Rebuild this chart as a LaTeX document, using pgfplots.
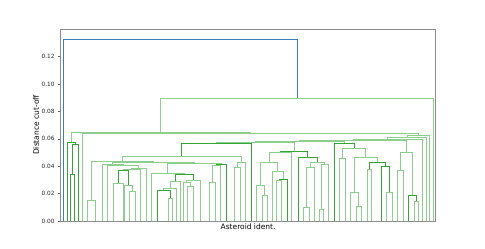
\documentclass[border=0pt]{standalone}
\usepackage{pgfplots}
\pgfplotsset{compat=1.18}
\usepackage{fontspec}
\setmainfont{DejaVu Sans}
\definecolor{lgreen}{RGB}{140,206,140}
\definecolor{dgreen}{RGB}{52,165,52}
\definecolor{mblue}{RGB}{60,125,190}
\pgfplotsset{
  gl/.style={draw=lgreen, line width=1.6bp},
  gd/.style={draw=dgreen, line width=1.6bp},
  bl/.style={draw=mblue, line width=1.6bp},
}
\begin{document}
\begin{tikzpicture}
\useasboundingbox (0,0) rectangle (485bp,249bp);
\begin{axis}[
  at={(60.5bp,28bp)}, anchor=south west,
  scale only axis, width=375.2bp, height=192bp,
  xmin=60.5, xmax=435.7, ymin=0, ymax=0.14016,
  xtick=\empty,
  ytick={0,0.02,0.04,0.06,0.08,0.1,0.12},
  ytick pos=left, tick align=outside, major tick length=2.5bp,
  every tick/.style={black!60, line width=0.6bp},
  axis line style={black!45, line width=0.8bp},
  yticklabel style={font=\fontsize{5.8bp}{7bp}\selectfont, text=black!85},
  /pgf/number format/.cd, fixed, fixed zerofill, precision=2, assume math mode=true,
  /pgfplots/.cd,
  xlabel={Asteroid ident.},
  ylabel={Distance cut-off},
  xlabel style={font=\fontsize{7.5bp}{9bp}\selectfont, at={(axis description cs:0.5,0)}, anchor=north, inner sep=0pt, yshift=-3bp},
  ylabel style={font=\fontsize{7.5bp}{9bp}\selectfont, at={(axis description cs:0,0.5)}, anchor=center, inner sep=0pt, yshift=24.5bp},
]
% ---- region I
\addplot[gd] coordinates {(70.5,0) (70.5,0.033945) (74.5,0.033945) (74.5,0)};
\addplot[gd] coordinates {(72.5,0.033945) (72.5,0.055845) (78.5,0.055845) (78.5,0)};
\addplot[gd] coordinates {(67.5,0) (67.5,0.057305) (75.5,0.057305) (75.5,0.055845)};
% ---- region II
\addplot[gl] coordinates {(87.5,0) (87.5,0.014965) (95.5,0.014965) (95.5,0)};
\addplot[gl] coordinates {(113.5,0) (113.5,0.027375) (123.5,0.027375) (123.5,0)};
\addplot[gl] coordinates {(129.5,0) (129.5,0.021535) (135.5,0.021535) (135.5,0)};
\addplot[gl] coordinates {(124.5,0) (124.5,0.025915) (132.5,0.025915) (132.5,0.021535)};
\addplot[gd] coordinates {(118.5,0.027375) (118.5,0.036865) (128.5,0.036865) (128.5,0.025915)};
\addplot[gl] coordinates {(123.5,0.036865) (123.5,0.037595) (140.5,0.037595) (140.5,0)};
\addplot[gl] coordinates {(131.5,0.037595) (131.5,0.038325) (146.5,0.038325) (146.5,0)};
\addplot[gl] coordinates {(168.5,0) (168.5,0.016425) (172.5,0.016425) (172.5,0)};
\addplot[gd] coordinates {(157.5,0) (157.5,0.022265) (170.5,0.022265) (170.5,0.016425)};
\addplot[gl] coordinates {(163.5,0.022265) (163.5,0.023725) (176.5,0.023725) (176.5,0)};
\addplot[gl] coordinates {(170.5,0.023725) (170.5,0.028835) (180.5,0.028835) (180.5,0)};
\addplot[gl] coordinates {(187.5,0) (187.5,0.025185) (193.5,0.025185) (193.5,0)};
\addplot[gl] coordinates {(183.5,0) (183.5,0.028105) (190.5,0.028105) (190.5,0.025185)};
\addplot[gl] coordinates {(186.5,0.028105) (186.5,0.029565) (200.5,0.029565) (200.5,0)};
\addplot[gd] coordinates {(175.5,0.028835) (175.5,0.033945) (193.5,0.033945) (193.5,0.029565)};
\addplot[gl] coordinates {(151.5,0) (151.5,0.034675) (184.5,0.034675) (184.5,0.033945)};
\addplot[gl] coordinates {(209.5,0) (209.5,0.028105) (215.5,0.028105) (215.5,0)};
\addplot[gl] coordinates {(212.5,0.028105) (212.5,0.040515) (220.5,0.040515) (220.5,0)};
\addplot[gd] coordinates {(216.5,0.040515) (216.5,0.041245) (226.5,0.041245) (226.5,0)};
\addplot[gl] coordinates {(167.5,0.034675) (167.5,0.041975) (221.5,0.041975) (221.5,0.041245)};
\addplot[gl] coordinates {(107.5,0) (107.5,0.040515) (138.5,0.040515) (138.5,0.038325)};
\addplot[gl] coordinates {(102.5,0) (102.5,0.041245) (123.5,0.041245) (123.5,0.040515)};
\addplot[gl] coordinates {(112.5,0.041245) (112.5,0.042705) (194.5,0.042705) (194.5,0.041975)};
\addplot[gl] coordinates {(91.5,0.014965) (91.5,0.043435) (153.5,0.043435) (153.5,0.042705)};
\addplot[gl] coordinates {(234.5,0) (234.5,0.039055) (240.5,0.039055) (240.5,0)};
\addplot[gl] coordinates {(237.5,0.039055) (237.5,0.042705) (245.5,0.042705) (245.5,0)};
\addplot[gl] coordinates {(122.5,0.043435) (122.5,0.047085) (241.5,0.047085) (241.5,0.042705)};
\addplot[gd] coordinates {(181.5,0.047085) (181.5,0.056575) (251.5,0.056575) (251.5,0)};
% ---- middle right
\addplot[gl] coordinates {(262.5,0) (262.5,0.018615) (267.5,0.018615) (267.5,0)};
\addplot[gl] coordinates {(256.5,0) (256.5,0.025915) (264.5,0.025915) (264.5,0.018615)};
\addplot[gl] coordinates {(276.5,0) (276.5,0.029565) (281.5,0.029565) (281.5,0)};
\addplot[gd] coordinates {(279.5,0.029565) (279.5,0.030295) (287.5,0.030295) (287.5,0)};
\addplot[gl] coordinates {(272.5,0) (272.5,0.036135) (283.5,0.036135) (283.5,0.030295)};
\addplot[gl] coordinates {(260.5,0.025915) (260.5,0.042705) (277.5,0.042705) (277.5,0.036135)};
\addplot[gl] coordinates {(269.5,0.042705) (269.5,0.050005) (291.5,0.050005) (291.5,0)};
\addplot[gl] coordinates {(303.5,0) (303.5,0.009855) (309.5,0.009855) (309.5,0)};
\addplot[gl] coordinates {(306.5,0.009855) (306.5,0.039055) (314.5,0.039055) (314.5,0)};
\addplot[gl] coordinates {(319.5,0) (319.5,0.008395) (323.5,0.008395) (323.5,0)};
\addplot[gl] coordinates {(321.5,0.008395) (321.5,0.041245) (328.5,0.041245) (328.5,0)};
\addplot[gl] coordinates {(310.5,0.039055) (310.5,0.042705) (324.5,0.042705) (324.5,0.041245)};
\addplot[gd] coordinates {(298.5,0) (298.5,0.046355) (317.5,0.046355) (317.5,0.042705)};
\addplot[gd] coordinates {(280.5,0.050005) (280.5,0.050735) (307.5,0.050735) (307.5,0.046355)};
% ---- right-left cluster
\addplot[gl] coordinates {(339.5,0) (339.5,0.045625) (345.5,0.045625) (345.5,0)};
\addplot[gl] coordinates {(356.5,0) (356.5,0.010585) (361.5,0.010585) (361.5,0)};
\addplot[gl] coordinates {(350.5,0) (350.5,0.020805) (358.5,0.020805) (358.5,0.010585)};
\addplot[gl] coordinates {(367.5,0) (367.5,0.037595) (371.5,0.037595) (371.5,0)};
\addplot[gl] coordinates {(386.5,0) (386.5,0.020805) (392.5,0.020805) (392.5,0)};
\addplot[gd] coordinates {(381.5,0) (381.5,0.039785) (389.5,0.039785) (389.5,0.020805)};
\addplot[gd] coordinates {(369.5,0.037595) (369.5,0.042705) (385.5,0.042705) (385.5,0.039785)};
\addplot[gl] coordinates {(354.5,0.020805) (354.5,0.046355) (377.5,0.046355) (377.5,0.042705)};
\addplot[gl] coordinates {(342.5,0.045625) (342.5,0.052925) (365.5,0.052925) (365.5,0.046355)};
\addplot[gd] coordinates {(334.5,0) (334.5,0.056575) (354.5,0.056575) (354.5,0.052925)};
% ---- right cluster
\addplot[gl] coordinates {(397.5,0) (397.5,0.036865) (403.5,0.036865) (403.5,0)};
\addplot[gl] coordinates {(414.5,0) (414.5,0.014235) (418.5,0.014235) (418.5,0)};
\addplot[gd] coordinates {(408.5,0) (408.5,0.018615) (416.5,0.018615) (416.5,0.014235)};
\addplot[gl] coordinates {(400.5,0.036865) (400.5,0.050005) (412.5,0.050005) (412.5,0.018615)};
% ---- upper chain
\addplot[gl] coordinates {(216.5,0.056575) (216.5,0.057305) (294.5,0.057305) (294.5,0.050735)};
\addplot[gl] coordinates {(255.5,0.057305) (255.5,0.058035) (344.5,0.058035) (344.5,0.056575)};
\addplot[gl] coordinates {(299.5,0.058035) (299.5,0.058765) (406.5,0.058765) (406.5,0.050005)};
\addplot[gl] coordinates {(353.5,0.058765) (353.5,0.059495) (422.5,0.059495) (422.5,0)};
\addplot[gl] coordinates {(387.5,0.059495) (387.5,0.060955) (426.5,0.060955) (426.5,0)};
\addplot[gl] coordinates {(407.5,0.060955) (407.5,0.062415) (429.5,0.062415) (429.5,0)};
\addplot[gl] coordinates {(82.5,0) (82.5,0.063875) (418.5,0.063875) (418.5,0.062415)};
\addplot[gl] coordinates {(71.5,0.057305) (71.5,0.064605) (250.5,0.064605) (250.5,0.063875)};
\addplot[gl] coordinates {(160.5,0.064605) (160.5,0.089425) (433.5,0.089425) (433.5,0)};
\addplot[bl] coordinates {(63.5,0) (63.5,0.132495) (297.5,0.132495) (297.5,0.089425)};
\end{axis}
\end{tikzpicture}
\end{document}
